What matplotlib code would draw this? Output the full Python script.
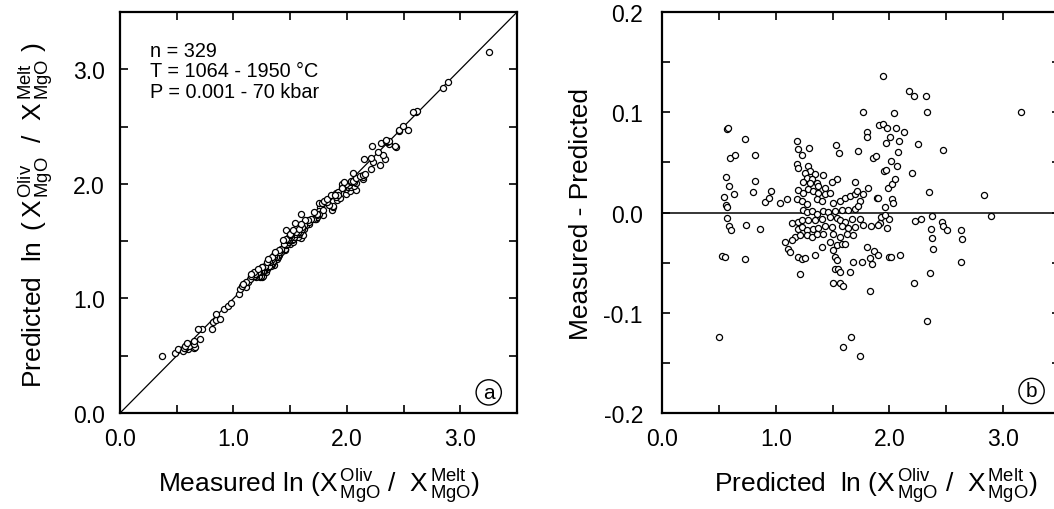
import numpy as np
import matplotlib
matplotlib.use('Agg')
import matplotlib.pyplot as plt
from matplotlib.ticker import MultipleLocator, FormatStrFormatter

plt.rcParams['font.family'] = ['Liberation Sans', 'DejaVu Sans']
plt.rcParams['mathtext.fontset'] = 'custom'
plt.rcParams['mathtext.rm'] = 'Liberation Sans'
plt.rcParams['mathtext.it'] = 'Liberation Sans:italic'
plt.rcParams['mathtext.bf'] = 'Liberation Sans:bold'
plt.rcParams['axes.unicode_minus'] = False

''' Predicted ln(X_oliv / X_melt) and residual (measured - predicted), read off panel b '''
# outer points
predicted_outer = [0.497, 0.527, 0.556, 0.541, 0.562, 0.565, 0.571, 0.571, 0.571, 0.580,
                   0.585, 0.585, 0.609, 0.600, 0.644, 0.632, 0.734, 0.737, 0.732, 0.796,
                   0.814, 0.822, 0.866, 0.904, 0.937, 0.957,
                   1.595, 1.662, 1.741, 1.771,
                   1.800, 1.806, 1.800, 1.814, 1.829, 1.838, 1.829, 1.850, 1.858, 1.879,
                   1.864, 1.888, 1.902, 1.908, 1.917, 1.925, 1.940, 1.946, 1.952, 1.970,
                   1.961, 1.970, 1.975, 1.981, 1.990, 1.996, 1.999, 2.014, 2.005, 2.014,
                   2.020, 2.028, 2.025, 2.043, 2.049, 2.058, 2.069, 2.078, 2.087, 2.093,
                   2.128, 2.169, 2.195, 2.218, 2.218, 2.224, 2.253, 2.277, 2.318, 2.327,
                   2.332, 2.350, 2.356, 2.365, 2.370, 2.370, 2.379, 2.473, 2.464, 2.473,
                   2.508, 2.625, 2.640, 2.628, 2.833, 2.892, 3.155,
                   1.903, 1.961, 1.903, 1.765]
residual_outer = [-0.124, -0.043, -0.044, 0.015, 0.035, 0.007, 0.005, -0.005, 0.083, 0.084,
                  0.026, -0.013, -0.017, 0.054, 0.057, 0.018, 0.073, -0.012, -0.046, 0.020,
                  0.031, 0.057, -0.016, 0.010, 0.014, 0.021,
                  -0.134, -0.124, -0.143, 0.100,
                  0.080, 0.075, -0.034, 0.024, -0.078, -0.013, -0.045, -0.051, 0.054, 0.056,
                  -0.038, 0.014, -0.042, 0.087, -0.010, -0.004, 0.088, 0.136, 0.041, 0.042,
                  0.005, 0.069, -0.015, 0.084, 0.024, -0.006, -0.044, -0.044, 0.075, 0.051,
                  0.013, 0.009, 0.028, 0.099, 0.033, 0.084, 0.046, 0.060, 0.071, -0.042,
                  0.080, 0.121, 0.039, 0.116, -0.070, -0.008, 0.068, -0.006, 0.116, 0.100,
                  -0.108, 0.020, -0.060, -0.016, -0.025, -0.003, -0.036, 0.062, -0.009, -0.013,
                  -0.017, -0.017, -0.026, -0.049, 0.017, -0.003, 0.100,
                  0.014, -0.002, -0.012, -0.012]

# dense cluster between 1.0 and 1.8
predicted_core = [1.184, 1.199, 1.293, 1.228, 1.527, 1.557, 1.727, 1.184, 1.199, 1.287,
                  1.302, 1.258, 1.346, 1.419, 1.272, 1.316, 1.243, 1.302, 1.360, 1.375,
                  1.434, 1.287, 1.331, 1.199, 1.243, 1.375, 1.434, 1.478, 1.536, 1.492,
                  1.697, 1.038, 1.096, 1.184, 1.228, 1.272, 1.360, 1.404, 1.507, 1.566,
                  1.609, 1.653, 1.697, 1.712, 1.741, 1.771, 1.243, 1.272, 1.316, 1.360,
                  1.419, 1.463, 1.522, 1.580, 1.639, 1.697, 1.727, 1.140, 1.199, 1.228,
                  1.287, 1.346, 1.404, 1.478, 1.536, 1.566, 1.609, 1.668, 1.741, 1.199,
                  1.228, 1.272, 1.331, 1.375, 1.434, 1.492, 1.580, 1.639, 1.697, 1.170,
                  1.214, 1.272, 1.316, 1.360, 1.419, 1.507, 1.566, 1.624, 1.683, 1.082,
                  1.140, 1.404, 1.478, 1.536, 1.580, 1.609, 1.111, 1.126, 1.507, 1.522,
                  1.536, 1.199, 1.228, 1.258, 1.346, 1.683, 1.756, 1.214, 1.522, 1.551,
                  1.566, 1.653, 1.507, 1.566, 1.595]
residual_core = [0.071, 0.063, 0.064, 0.057, 0.067, 0.059, 0.061, 0.048, 0.044, 0.046,
                 0.041, 0.039, 0.038, 0.037, 0.034, 0.033, 0.030, 0.029, 0.029, 0.026,
                 0.024, 0.023, 0.021, 0.022, 0.019, 0.019, 0.018, 0.019, 0.033, 0.030,
                 0.030, 0.009, 0.013, 0.013, 0.011, 0.008, 0.013, 0.011, 0.009, 0.011,
                 0.014, 0.016, 0.018, 0.021, 0.011, 0.018, 0.003, 0.001, 0.002, -0.001,
                 0.002, 0.001, 0.002, 0.003, 0.003, 0.004, 0.006, -0.010, -0.009, -0.007,
                 -0.007, -0.007, -0.006, -0.004, -0.005, -0.007, -0.009, -0.006, -0.006, -0.016,
                 -0.014, -0.017, -0.016, -0.015, -0.013, -0.014, -0.013, -0.015, -0.014, -0.024,
                 -0.022, -0.022, -0.024, -0.021, -0.021, -0.021, -0.024, -0.021, -0.022, -0.029,
                 -0.027, -0.034, -0.029, -0.032, -0.031, -0.031, -0.036, -0.039, -0.037, -0.044,
                 -0.047, -0.044, -0.046, -0.045, -0.042, -0.049, -0.049, -0.061, -0.056, -0.056,
                 -0.059, -0.059, -0.070, -0.070, -0.073]

predicted = np.array(predicted_outer + predicted_core)
residual = np.array(residual_outer + residual_core)
measured = predicted + residual

stats_text = 'n = 329\nT = 1064 - 1950 °C\nP = 0.001 - 70 kbar'
ratio = r'\ (\mathrm{X}^{\,\mathrm{Oliv}}_{\,\mathrm{MgO}}\ /\ \ \mathrm{X}^{\,\mathrm{Melt}}_{\,\mathrm{MgO}})'
ratio_y = r'\ \,(\,\mathrm{X}^{\,\mathrm{Oliv}}_{\,\mathrm{MgO}}\ \ /\ \ \mathrm{X}^{\,\mathrm{Melt}}_{\,\mathrm{MgO}}\ )'

fig = plt.figure(figsize=(10.54, 5.10), dpi=100)
ax1 = fig.add_axes([0.1139, 0.1882, 0.3767, 0.7863])
ax2 = fig.add_axes([0.6281, 0.1882, 0.3776, 0.7863])

mk = dict(ls='none', marker='o', ms=4.4, mfc='white', mec='black', mew=0.9, zorder=3)


def style(ax, xmaj, xmin, ymaj, ymin, yfmt):
    ax.xaxis.set_major_locator(MultipleLocator(xmaj))
    ax.xaxis.set_minor_locator(MultipleLocator(xmin))
    ax.yaxis.set_major_locator(MultipleLocator(ymaj))
    ax.yaxis.set_minor_locator(MultipleLocator(ymin))
    ax.xaxis.set_major_formatter(FormatStrFormatter('%.1f'))
    ax.yaxis.set_major_formatter(FormatStrFormatter(yfmt))
    ax.tick_params(which='both', direction='in', top=True, right=True,
                   length=6, width=1.2, labelsize=16.5)
    ax.tick_params(axis='x', pad=10)
    for s in ax.spines.values():
        s.set_linewidth(1.6)


''' (a) measured vs predicted '''
ax1.plot([0, 3.5], [0, 3.5], color='black', lw=0.9, zorder=2)
ax1.plot(measured, predicted, **mk)
ax1.set_xlim(0, 3.5)
ax1.set_ylim(0, 3.5)
style(ax1, 1.0, 0.5, 1.0, 0.5, '%.1f')
ax1.tick_params(axis='y', pad=11)
ax1.text(0.265, 3.25, stats_text, fontsize=14.3, va='top', ha='left', linespacing=1.1)
ax1.text(3.25, 0.18, 'a', fontsize=15, ha='center', va='center',
         bbox=dict(boxstyle='circle,pad=0.15', fc='white', ec='black', lw=1.0))
ax1.set_xlabel('Measured ln$' + ratio + '$', fontsize=19)
ax1.set_ylabel('Predicted  ln$' + ratio_y + '$', fontsize=19)
ax1.xaxis.set_label_coords(0.5, -0.13)
ax1.yaxis.set_label_coords(-0.165, 0.495)

''' (b) residuals '''
ax2.axhline(0, color='black', lw=1.1, zorder=2)
ax2.plot(predicted, residual, **mk)
ax2.set_xlim(0, 3.5)
ax2.set_ylim(-0.2, 0.2)
style(ax2, 1.0, 0.5, 0.1, 0.05, '%.1f')
ax2.tick_params(axis='y', pad=13.7)
ax2.text(3.25, -0.178, 'b', fontsize=15, ha='center', va='center',
         bbox=dict(boxstyle='circle,pad=0.15', fc='white', ec='black', lw=1.0))
ax2.set_xlabel('Predicted  ln$' + ratio + '$', fontsize=19)
ax2.set_ylabel('Measured - Predicted', fontsize=19)
ax2.xaxis.set_label_coords(0.538, -0.13)
ax2.yaxis.set_label_coords(-0.173, 0.5)

fig.savefig('out.png', dpi=100)
